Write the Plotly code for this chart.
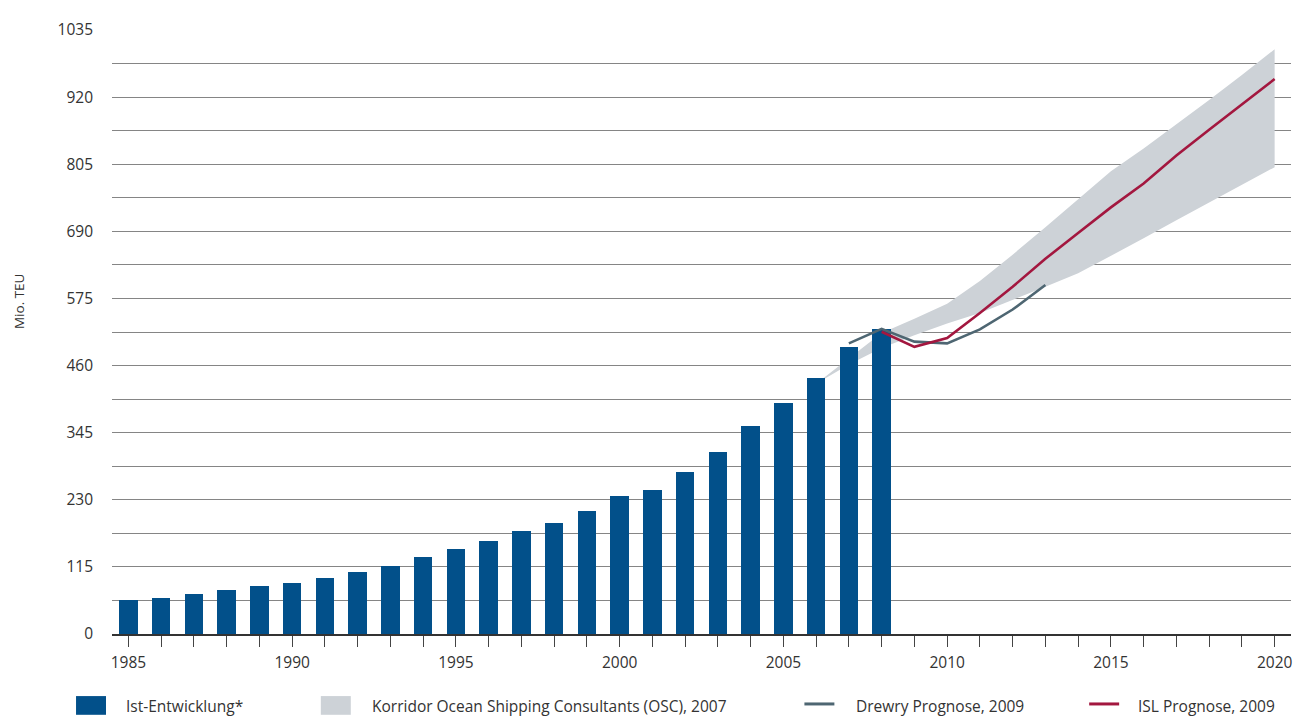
import plotly.graph_objects as go

# ---- data ----
years = list(range(1985, 2009))
ist = [59, 62.5, 69, 76, 83, 88, 96, 106, 116.5, 132, 145, 159, 176, 191, 211,
       236, 246.5, 277, 312, 356, 395, 439, 492, 522]

corr_years = list(range(2006, 2021))
corr_upper = [429, 472, 516, 540, 566, 605, 650, 697, 745, 793, 832, 873, 915, 958, 1002]
corr_lower = [429, 462, 490, 512, 532, 550, 572, 595, 618, 648, 678, 709, 739, 770, 800]

drewry_years = list(range(2007, 2014))
drewry = [498, 523, 501, 498, 522, 556, 598]

isl_years = list(range(2008, 2021))
isl = [518, 492, 507, 550, 595, 643, 687, 731, 772, 820, 864, 907, 951]

y_ticks = [0, 115, 230, 345, 460, 575, 690, 805, 920, 1035]
y_minor = [57.5, 172.5, 287.5, 402.5, 517.5, 632.5, 747.5, 862.5, 977.5]
x_ticks = list(range(1985, 2021))
x_labels = [str(y) if y % 5 == 0 else "" for y in x_ticks]

legend_names = ["Ist-Entwicklung*", "Korridor Ocean Shipping Consultants (OSC), 2007",
                "Drewry Prognose, 2009", "ISL Prognose, 2009"]

# ---- styles ----
C_BAR = "#02508a"
C_CORR = "#cdd2d7"
C_DREWRY = "#4e6672"
C_ISL = "#a3173f"
C_TEXT = "#333333"
C_GRID = "#858585"
FONT = "Open Sans"
FS = 15.5

OFF = 8  # page body margin
W, H = 1302 - OFF, 716 - OFF
# plot area in window pixels: x 112..1292, y 21..634
L, R, T, B = 112 - OFF, 10, 21 - OFF, H - (634 - OFF)
PW, PH = W - L - R, H - T - B


def px_x(px):
    return (px - OFF - L) / PW


def px_y(py):
    return (H - B - (py - OFF)) / PH


fig = go.Figure()

# corridor on the base subplot (below bars)
fig.add_trace(go.Scatter(
    x=corr_years + corr_years[::-1],
    y=corr_upper + corr_lower[::-1],
    fill="toself", fillcolor=C_CORR, mode="lines", line=dict(width=0),
    name=legend_names[1], showlegend=False, hoverinfo="skip",
    xaxis="x", yaxis="y"))

# bars and lines on an overlaid subplot (drawn above the corridor)
fig.add_trace(go.Bar(
    x=years, y=ist, width=0.57, marker=dict(color=C_BAR, line=dict(width=0)),
    name=legend_names[0], showlegend=False, xaxis="x2", yaxis="y2"))

fig.add_trace(go.Scatter(
    x=drewry_years, y=drewry, mode="lines", line=dict(color=C_DREWRY, width=2.6),
    name=legend_names[2], showlegend=False, xaxis="x2", yaxis="y2"))

fig.add_trace(go.Scatter(
    x=isl_years, y=isl, mode="lines", line=dict(color=C_ISL, width=2.6),
    name=legend_names[3], showlegend=False, xaxis="x2", yaxis="y2"))

xr = [1984.5, 2020.5]
yr = [0, 1035]

fig.update_layout(
    width=W, height=H,
    margin=dict(l=L, r=R, t=T, b=B),
    paper_bgcolor="white", plot_bgcolor="white",
    font=dict(family=FONT, size=FS, color=C_TEXT),
    bargap=0,
    xaxis=dict(range=xr, tickmode="array", tickvals=x_ticks, ticktext=x_labels,
               ticks="outside", ticklen=11, tickwidth=1, tickcolor="#444444",
               showline=True, linecolor="#333333", linewidth=1.5,
               showgrid=False, zeroline=False, ticklabelstandoff=3,
               tickfont=dict(size=FS, color=C_TEXT)),
    yaxis=dict(range=yr, tickmode="array", tickvals=y_ticks,
               ticks="", showline=False, zeroline=False,
               showgrid=True, gridcolor=C_GRID, gridwidth=1,
               minor=dict(tickvals=y_minor, showgrid=True, gridcolor=C_GRID, gridwidth=1),
               ticklabelstandoff=18, tickfont=dict(size=FS, color=C_TEXT)),
    xaxis2=dict(range=xr, overlaying="x", visible=False),
    yaxis2=dict(range=yr, overlaying="y", visible=False),
)

# y axis title
fig.add_annotation(text="Mio. TEU", textangle=-90, xref="paper", yref="paper",
                   x=px_x(19), y=px_y(296), showarrow=False,
                   font=dict(size=13.5, color=C_TEXT), xanchor="center", yanchor="middle")

# manual legend (swatches sized like the reference)
leg_y = 707
swatches = [
    dict(kind="rect", x0=76, color=C_BAR, tx=126),
    dict(kind="rect", x0=321, color=C_CORR, tx=372),
    dict(kind="line", x0=805, color=C_DREWRY, tx=857),
    dict(kind="line", x0=1090, color=C_ISL, tx=1139),
]
for s, name in zip(swatches, legend_names):
    if s["kind"] == "rect":
        fig.add_shape(type="rect", xref="paper", yref="paper",
                      x0=px_x(s["x0"]), x1=px_x(s["x0"] + 30),
                      y0=px_y(716), y1=px_y(697),
                      fillcolor=s["color"], line=dict(width=0))
    else:
        fig.add_shape(type="line", xref="paper", yref="paper",
                      x0=px_x(s["x0"]), x1=px_x(s["x0"] + 30),
                      y0=px_y(705), y1=px_y(705),
                      line=dict(color=s["color"], width=3))
    fig.add_annotation(text=name, xref="paper", yref="paper",
                       x=px_x(s["tx"] - 2), y=px_y(leg_y), showarrow=False,
                       xanchor="left", yanchor="middle",
                       font=dict(size=FS, color=C_TEXT))

fig.write_html("out.html")
